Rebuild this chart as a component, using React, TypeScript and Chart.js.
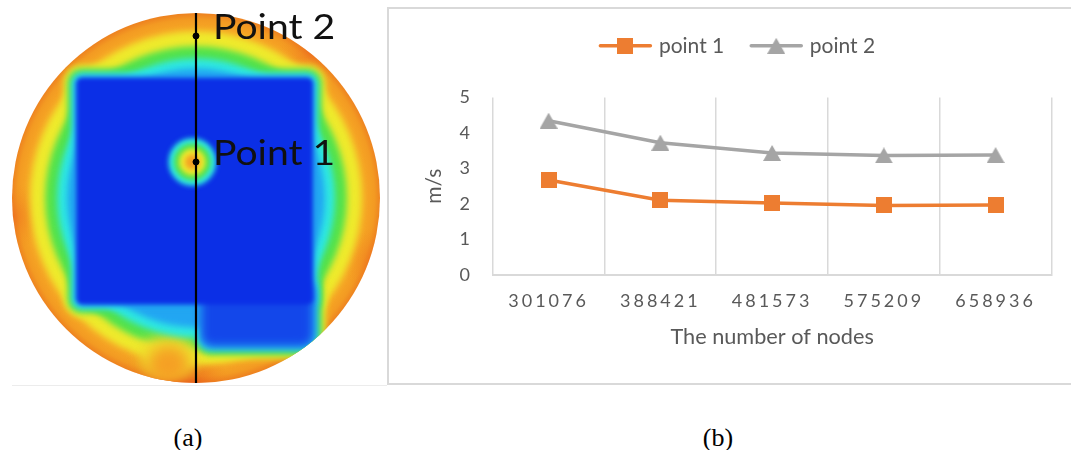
import React, { useEffect, useRef } from 'react';
import { Chart, registerables } from 'chart.js';

Chart.register(...registerables);

// ---------- panel (b) data ----------
const nodeCounts = ['301076', '388421', '481573', '575209', '658936'];
const point1Speed = [2.68, 2.11, 2.03, 1.96, 1.97];
const point2Speed = [4.35, 3.73, 3.44, 3.37, 3.38];
const seriesNames = ['point 1', 'point 2'];
const seriesColors = ['#ED7D31', '#A5A5A5'];
const yAxisTitle = 'm/s';
const xAxisTitle = 'The number of nodes';

// ---------- panel (a) data (normalised section coordinates, radius = 1) ----------
const probeNames = ['Point 1', 'Point 2'];
const probeX = [0, 0];
const probeY = [0.195, 0.876];
const sectionLineX = [0, 0];
const sectionLineY = [-1, 1];

const captions = ['(a)', '(b)'];

const FONT = 'Lato, "Open Sans", sans-serif';
const TEXT = '#595959';

function makeMarker(kind: string, color: string, w: number, h: number) {
  const c = document.createElement('canvas');
  c.width = w;
  c.height = h;
  const g = c.getContext('2d')!;
  g.fillStyle = color;
  if (kind === 'rect') {
    g.fillRect(0, 0, w, h);
  } else {
    g.beginPath();
    g.moveTo(w / 2, 0);
    g.lineTo(w, h);
    g.lineTo(0, h);
    g.closePath();
    g.fill();
  }
  return c;
}

const heatPlugin = {
  id: 'heat',
  beforeDatasetsDraw(chart: any) {
    const { ctx } = chart;
    const xs = chart.scales.x;
    const ys = chart.scales.y;
    const X = (u: number) => xs.getPixelForValue(u);
    const Y = (v: number) => ys.getPixelForValue(v);
    const cx = X(0);
    const cy = Y(0);
    const rx = X(1) - cx;
    const ry = cy - Y(1);
    const ell = (u: number, v: number, ru: number, rv: number) => {
      ctx.moveTo(X(u) + ru * rx, Y(v));
      ctx.ellipse(X(u), Y(v), ru * rx, rv * ry, 0, 0, Math.PI * 2);
    };
    const rr = (u0: number, v0: number, u1: number, v1: number, rad: number) => {
      ctx.roundRect(X(u0), Y(v1), X(u1) - X(u0), Y(v0) - Y(v1), rad * rx);
    };
    const blueMain = [-0.65, -0.575, 0.635, 0.65];
    const blueExt = [0.03, -0.8, 0.635, -0.45];

    ctx.save();
    ctx.beginPath();
    ctx.ellipse(cx, cy, rx, ry, 0, 0, Math.PI * 2);
    ctx.clip();

    const g = ctx.createRadialGradient(cx, cy, 0, cx, cy, rx);
    g.addColorStop(0, '#F8B82A');
    g.addColorStop(0.9, '#F7AC26');
    g.addColorStop(0.97, '#F39A22');
    g.addColorStop(1, '#EE8420');
    ctx.fillStyle = g;
    ctx.fillRect(cx - rx - 2, cy - ry - 2, 2 * rx + 4, 2 * ry + 4);

    const blob = (u: number, v: number, r: number, col: string) => {
      const gg = ctx.createRadialGradient(X(u), Y(v), 0, X(u), Y(v), r * rx);
      gg.addColorStop(0, col);
      gg.addColorStop(1, 'rgba(240,130,30,0)');
      ctx.fillStyle = gg;
      ctx.fillRect(cx - rx, cy - ry, 2 * rx, 2 * ry);
    };
    blob(-0.12, -1.02, 0.3, 'rgba(226,40,25,0.95)');
    blob(1.0, -0.35, 0.2, 'rgba(236,90,30,0.5)');
    blob(-1.0, -0.1, 0.18, 'rgba(236,90,30,0.45)');
    blob(0.62, 0.78, 0.18, 'rgba(236,90,30,0.4)');

    const layers = [
      { r: 0.9, d: 0.07, c: '#EEEA2C', blur: 3 },
      { r: 0.82, d: 0.048, c: '#52E24C', blur: 3 },
      { r: 0.755, d: 0.027, c: '#2EE8E2', blur: 3 },
      { r: 0.7, d: 0.01, c: '#22A6F2', blur: 3 },
    ];
    layers.forEach((L, i) => {
      ctx.save();
      ctx.filter = `blur(${L.blur}px)`;
      ctx.fillStyle = L.c;
      ctx.beginPath();
      ell(0, 0, L.r, L.r);
      ctx.fill();
      ctx.beginPath();
      rr(blueMain[0] - L.d, blueMain[1] - L.d, blueMain[2] + L.d, blueMain[3] + L.d, 0.03 + L.d);
      ctx.fill();
      ctx.beginPath();
      rr(blueExt[0] - L.d, blueExt[1] - L.d, blueExt[2] + L.d, blueExt[3] + L.d, 0.05 + L.d);
      ctx.fill();
      ctx.restore();
      if (i === 1) {
        ctx.save();
        ctx.filter = 'blur(7px)';
        ctx.fillStyle = '#EFDF2C';
        ctx.beginPath();
        ell(-0.15, -0.86, 0.16, 0.12);
        ctx.fill();
        ctx.fillStyle = '#F5A024';
        ctx.beginPath();
        ell(-0.15, -0.9, 0.11, 0.1);
        ctx.fill();
        ctx.restore();
      }
    });

    ctx.save();
    ctx.filter = 'blur(5px)';
    ctx.fillStyle = '#1347EA';
    ctx.beginPath();
    rr(blueExt[0], blueExt[1], blueExt[2], blueExt[3], 0.06);
    ctx.fill();
    ctx.restore();
    ctx.save();
    ctx.filter = 'blur(2px)';
    ctx.fillStyle = '#0B2FE6';
    ctx.beginPath();
    rr(blueMain[0], blueMain[1], blueMain[2], blueMain[3], 0.03);
    ctx.fill();
    ctx.restore();

    // hot spot around point 1
    const spot = [
      { r: 0.13, c: '#2EE8E2' },
      { r: 0.1, c: '#52E24C' },
      { r: 0.072, c: '#EEEA2C' },
      { r: 0.04, c: '#F5A024' },
    ];
    spot.forEach((s) => {
      ctx.save();
      ctx.filter = 'blur(2.5px)';
      ctx.fillStyle = s.c;
      ctx.beginPath();
      ell(-0.02, probeY[0], s.r, s.r);
      ctx.fill();
      ctx.restore();
    });
    ctx.restore();
  },
  afterDatasetsDraw(chart: any) {
    const { ctx } = chart;
    const xs = chart.scales.x;
    const ys = chart.scales.y;
    probeNames.forEach((name, i) => {
      ctx.save();
      ctx.font = `34px ${FONT}`;
      ctx.fillStyle = '#111';
      ctx.textBaseline = 'alphabetic';
      ctx.translate(xs.getPixelForValue(probeX[i]) + 17, ys.getPixelForValue(probeY[i]) + 3.5);
      ctx.scale(1.15, 1);
      ctx.fillText(name, 0, 0);
      ctx.restore();
    });
  },
};

export default function App() {
  const refA = useRef<HTMLCanvasElement>(null);
  const refB = useRef<HTMLCanvasElement>(null);

  useEffect(() => {
    const chartA = new Chart(refA.current!, {
      type: 'scatter',
      data: {
        datasets: [
          {
            type: 'line',
            data: sectionLineX.map((x, i) => ({ x, y: sectionLineY[i] })),
            borderColor: '#000',
            borderWidth: 2.2,
            pointRadius: 0,
          } as any,
          {
            data: probeX.map((x, i) => ({ x, y: probeY[i] })),
            backgroundColor: '#000',
            borderColor: '#000',
            pointRadius: 3,
          },
        ],
      },
      options: {
        responsive: false,
        animation: false,
        layout: { padding: 0, autoPadding: false },
        plugins: { legend: { display: false }, tooltip: { enabled: false } },
        scales: {
          x: { type: 'linear', min: -1, max: 1, display: false },
          y: { type: 'linear', min: -1, max: 1, display: false },
        },
      },
      plugins: [heatPlugin],
    });

    const markers = [
      makeMarker('rect', seriesColors[0], 16, 16),
      makeMarker('triangle', seriesColors[1], 18, 16),
    ];

    const legendMarkerPlugin = {
      id: 'legendMarkers',
      afterDraw(chart: any) {
        const lg = chart.legend;
        if (!lg || !lg.legendHitBoxes) return;
        const ctx = chart.ctx;
        lg.legendHitBoxes.forEach((hb: any, i: number) => {
          const yc = hb.top + hb.height / 2;
          ctx.save();
          ctx.strokeStyle = seriesColors[i];
          ctx.lineWidth = 3.5;
          ctx.lineCap = 'round';
          ctx.beginPath();
          ctx.moveTo(hb.left + 2, yc);
          ctx.lineTo(hb.left + 52, yc);
          ctx.stroke();
          const m = markers[i];
          ctx.drawImage(m, hb.left + 27 - m.width / 2, yc - m.height / 2);
          ctx.restore();
        });
      },
    };

    const tickSpacingPlugin = {
      id: 'tickSpacing',
      beforeDraw(chart: any) {
        const s = chart.scales.x;
        if (s && !s.__spaced) {
          const orig = s.drawLabels.bind(s);
          s.drawLabels = (area: any) => {
            const c = chart.ctx;
            c.save();
            c.letterSpacing = '3px';
            orig(area);
            c.restore();
          };
          s.__spaced = true;
        }
      },
    };

    const chartB = new Chart(refB.current!, {
      type: 'line',
      data: {
        labels: nodeCounts,
        datasets: [
          {
            label: seriesNames[0],
            data: point1Speed,
            borderColor: seriesColors[0],
            backgroundColor: seriesColors[0],
            borderWidth: 3.5,
            pointStyle: markers[0] as any,
            pointRadius: 8,
            tension: 0,
          },
          {
            label: seriesNames[1],
            data: point2Speed,
            borderColor: seriesColors[1],
            backgroundColor: seriesColors[1],
            borderWidth: 3.5,
            pointStyle: markers[1] as any,
            pointRadius: 8,
            tension: 0,
          },
        ],
      },
      options: {
        responsive: false,
        animation: false,
        layout: { padding: { left: 33, right: 19.5, top: -30, bottom: 30 } },
        plugins: {
          tooltip: { enabled: false },
          legend: {
            position: 'top',
            labels: {
              font: { family: FONT, size: 21 },
              color: TEXT,
              boxWidth: 50,
              boxHeight: 83.6,
              padding: 25,
              generateLabels: (chart: any) =>
                chart.data.datasets.map((ds: any, i: number) => ({
                  text: ds.label,
                  fillStyle: 'rgba(0,0,0,0)',
                  strokeStyle: 'rgba(0,0,0,0)',
                  lineWidth: 0,
                  fontColor: TEXT,
                  hidden: false,
                  datasetIndex: i,
                })),
            },
          },
        },
        scales: {
          x: {
            offset: true,
            grid: { offset: true, color: '#d9d9d9', lineWidth: 1.5, drawTicks: false },
            border: { display: true, color: '#d9d9d9', width: 2 },
            ticks: {
              color: TEXT,
              font: { family: FONT, size: 18 },
              padding: 15.5,
              maxRotation: 0,
              autoSkip: false,
            },
            title: {
              display: true,
              text: xAxisTitle,
              color: TEXT,
              font: { family: FONT, size: 21.7 },
              padding: { top: 0, bottom: 3 },
            },
            afterFit: (s: any) => {
              s.height = 78;
            },
          },
          y: {
            min: 0,
            max: 5,
            grid: { display: false, drawTicks: false },
            border: { display: false },
            ticks: {
              stepSize: 1,
              color: TEXT,
              font: { family: FONT, size: 18 },
              padding: 22.7,
            },
            title: {
              display: true,
              text: yAxisTitle,
              color: TEXT,
              font: { family: FONT, size: 21 },
              padding: { top: 0, bottom: 0 },
            },
            afterFit: (s: any) => {
              s.width = 70.7;
            },
          },
        },
      },
      plugins: [legendMarkerPlugin, tickSpacingPlugin],
    });

    return () => {
      chartA.destroy();
      chartB.destroy();
    };
  }, []);

  return (
    <div
      style={{
        position: 'fixed',
        left: 0,
        top: 0,
        width: 1071,
        height: 450,
        background: '#fff',
        overflow: 'hidden',
      }}
    >
      <canvas
        ref={refA}
        width={368}
        height={370}
        style={{ position: 'absolute', left: 12, top: 13, width: 368, height: 370 }}
      />
      <div
        style={{
          position: 'absolute',
          left: 12,
          top: 385,
          width: 375,
          height: 1,
          background: '#ececec',
        }}
      />
      <div
        style={{
          position: 'absolute',
          left: 387,
          top: 7,
          width: 720,
          height: 378,
          border: '2px solid #d9d9d9',
          boxSizing: 'border-box',
        }}
      />
      <canvas
        ref={refB}
        width={682}
        height={374}
        style={{ position: 'absolute', left: 389, top: 9, width: 682, height: 374 }}
      />
      {captions.map((t, i) => (
        <div
          key={t}
          style={{
            position: 'absolute',
            left: (i === 0 ? 188 : 718) - 50,
            width: 100,
            top: 425,
            lineHeight: '26px',
            textAlign: 'center',
            fontFamily: '"Liberation Serif", "Times New Roman", serif',
            fontSize: 26,
            color: '#000',
          }}
        >
          {t}
        </div>
      ))}
    </div>
  );
}
